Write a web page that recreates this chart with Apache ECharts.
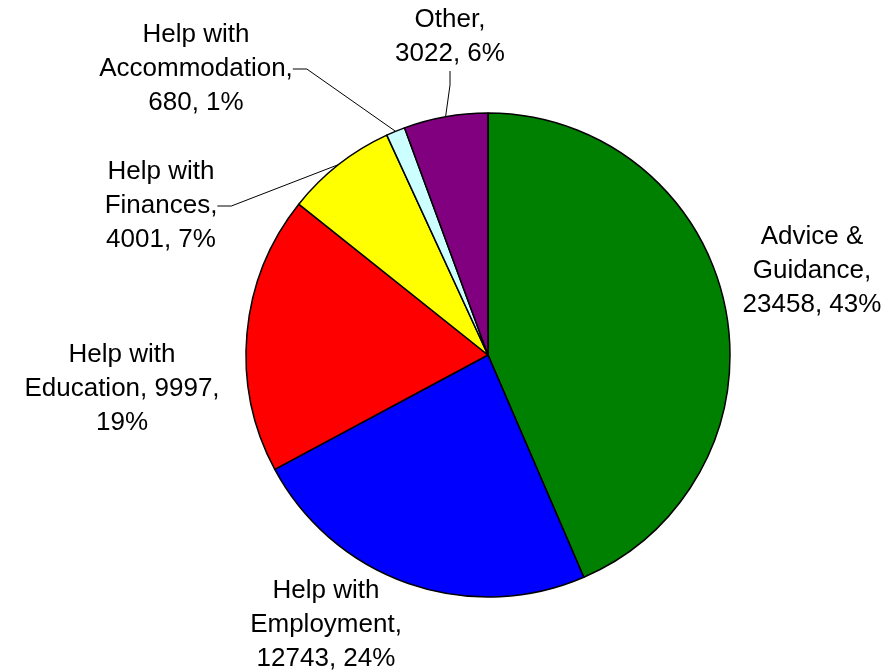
<!DOCTYPE html>
<html>
<head>
<meta charset="utf-8">
<script src="https://cdn.jsdelivr.net/npm/echarts@6/dist/echarts.min.js"></script>
<style>
  html, body { margin: 0; padding: 0; background: #fff; }
  #chart { width: 893px; height: 672px; }
</style>
</head>
<body>
<div id="chart"></div>
<script>
// data (clockwise from 12 o'clock)
var categories = ['Advice & Guidance', 'Help with Employment', 'Help with Education',
  'Help with Finances', 'Help with Accommodation', 'Other'];
var values = [23458, 12743, 9997, 4001, 680, 3022];

// how each label is broken over lines ({v} = value, {p} = percent)
var labelText = [
  'Advice &\nGuidance,\n{v}, {p}%',
  'Help with\nEmployment,\n{v}, {p}%',
  'Help with\nEducation, {v},\n{p}%',
  'Help with\nFinances,\n{v}, {p}%',
  'Help with\nAccommodation,\n{v}, {p}%',
  'Other,\n{v}, {p}%'
];

var colors = ['#008000', '#0000ff', '#ff0000', '#ffff00', '#ccffff', '#800080'];
// label centres in pixels
var labelPos = [[812, 271], [326, 625], [122, 389], [161, 206], [196, 69], [450, 37]];
var withLine = [false, false, false, true, true, true];

var chartDom = document.getElementById('chart');
var myChart = echarts.init(chartDom);

var option = {
  animation: false,
  backgroundColor: '#fff',
  series: [
    {
      type: 'pie',
      center: [488, 355],
      radius: 242,
      startAngle: 90,
      clockwise: true,
      percentPrecision: 0,
      avoidLabelOverlap: false,
      itemStyle: {
        borderColor: '#000',
        borderWidth: 1.5
      },
      label: {
        show: true,
        color: '#000',
        fontFamily: '"Liberation Sans", Arial, sans-serif',
        fontSize: 26,
        lineHeight: 34,
        align: 'center',
        formatter: function (p) {
          return labelText[p.dataIndex].replace('{v}', p.value).replace('{p}', p.percent);
        }
      },
      labelLine: {
        show: true,
        length: 12,
        length2: 14,
        lineStyle: { color: '#000', width: 1 }
      },
      labelLayout: function (params) {
        var pos = labelPos[params.dataIndex];
        return { x: pos[0], y: pos[1], align: 'center', verticalAlign: 'middle' };
      },
      emphasis: { disabled: true },
      data: categories.map(function (name, i) {
        return {
          name: name,
          value: values[i],
          itemStyle: { color: colors[i] },
          labelLine: { show: withLine[i] }
        };
      })
    }
  ]
};

myChart.setOption(option);
</script>
</body>
</html>
